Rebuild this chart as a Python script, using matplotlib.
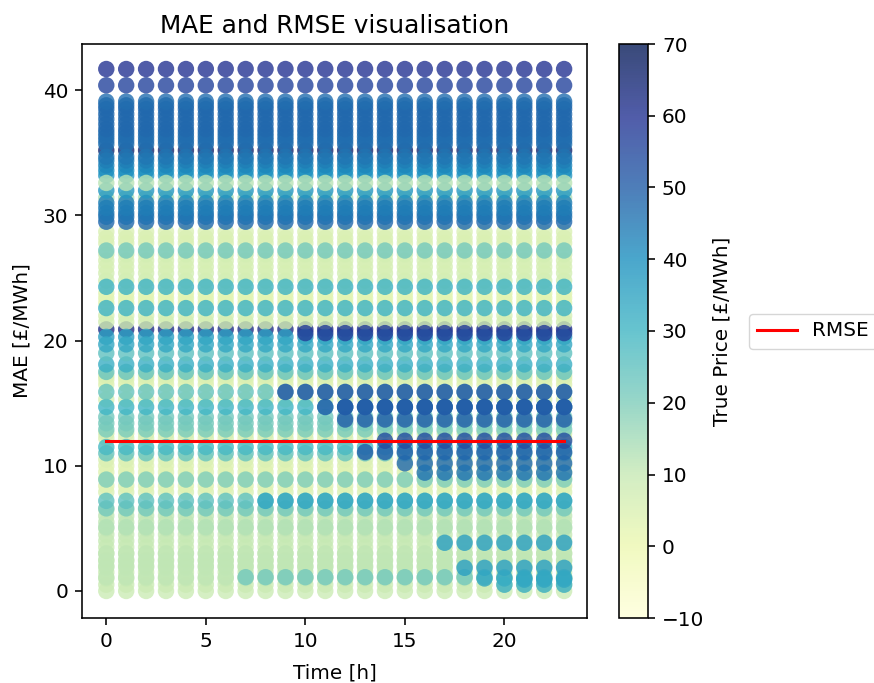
import matplotlib
matplotlib.use("Agg")
import matplotlib.pyplot as plt

hours = list(range(24))

# pale rows sitting underneath everything, one price per MAE level
pale_mae = [0.0, 0.5, 1.0, 1.5, 2.0, 2.5, 3.0, 3.5, 4.0, 4.5, 5.0, 5.5, 6.0, 6.5,
            7.9, 8.4, 9.0, 9.5, 10.0, 10.5, 12.2, 12.6, 15.3, 16.5, 16.9, 17.2,
            22.0, 23.0, 23.4, 23.8, 24.8, 25.4, 25.9, 26.4, 26.9, 27.8, 28.2, 28.7]
pale_price = [9, 9, 10, 9, 10, 10, 10, 9, 10, 10, 11, 11, 11, 11,
              5, 4, 5, 4, 4, 5, 5, 6, 6, 4, 4, 5,
              6, 3, 3, 3, 7, 7, 6, 6, 7, 5, 5, 5]

# rows present in every hour, drawn in this order
row_mae = [3.0, 2.4, 8.9, 6.6, 7.2, 5.1, 1.1, 1.9, 11.0, 11.5, 12.9, 13.4, 13.9, 14.7, 15.9,
           17.5, 18.1, 19.0, 20.9, 21.5, 20.3, 19.7, 22.6, 24.3, 27.2, 31.4, 29.5, 29.9, 30.2, 30.6, 31.0,
           32.0, 33.2, 33.6, 35.2, 34.0, 34.4, 34.7, 35.7, 36.0, 36.3, 36.6, 36.9, 37.3, 37.7,
           38.1, 38.5, 38.8, 39.1, 32.6, 40.4, 41.7]
row_price = [11, 11, 20, 22, 25, 13, 11, 11, 24, 29, 21, 21, 22, 30, 24,
             24, 32, 25, 62, 7, 36, 34, 31, 31, 22, 14, 48, 46, 45, 44, 44,
             38, 38, 40, 66, 42, 44, 45, 46, 47, 47, 47, 48, 48, 48,
             48, 48, 48, 47, 12, 56, 60]

# rows that only appear later in the day
late_mae = [7.2, 1.1, 20.6, 15.9, 14.7, 14.7, 13.7, 11.1, 12.0, 10.2, 9.45, 3.85, 1.85, 1.0, 0.5, 0.9]
late_price = [34, 22, 58, 52, 52, 50, 50, 50, 54, 48, 46, 36, 36, 34, 32, 34]
late_from = [8, 7, 10, 9, 12, 11, 12, 13, 14, 15, 16, 17, 18, 19, 20, 21]

rmse_hours = [0, 23]
rmse_values = [12.0, 12.0]

price_ticks = [-10, 0, 10, 20, 30, 40, 50, 60, 70]

xs, ys, cs = [], [], []
for h in hours:
    for m, p in zip(pale_mae + row_mae, pale_price + row_price):
        xs.append(h)
        ys.append(m)
        cs.append(p)
    for m, p, start in zip(late_mae, late_price, late_from):
        if h >= start:
            xs.append(h)
            ys.append(m)
            cs.append(p)

plt.rcParams["font.size"] = 14.4
plt.rcParams["axes.linewidth"] = 1.15
plt.rcParams["xtick.major.size"] = 5
plt.rcParams["ytick.major.size"] = 5
plt.rcParams["xtick.major.width"] = 1.15
plt.rcParams["ytick.major.width"] = 1.15
plt.rcParams["xtick.major.pad"] = 5
plt.rcParams["ytick.major.pad"] = 5

fig = plt.figure(figsize=(8.74, 6.83), dpi=100)
ax = fig.add_axes([82 / 874, 1 - 618 / 683, 505 / 874, 574 / 683])
cax = fig.add_axes([619 / 874, 1 - 618 / 683, 29 / 874, 574 / 683])

sc = ax.scatter(xs, ys, c=cs, s=140, cmap="YlGnBu", vmin=-10, vmax=70, alpha=0.8,
                linewidths=0)
ax.plot(rmse_hours, rmse_values, color="red", linewidth=2.2, label="RMSE")

ax.set_xlim(-1.22, 24.15)
ax.set_ylim(-2.16, 43.7)
ax.set_xticks([0, 5, 10, 15, 20])
ax.set_yticks([0, 10, 20, 30, 40])
ax.set_title("MAE and RMSE visualisation", fontsize=17.8, pad=8)
ax.set_xlabel("Time [h]", labelpad=9)
ax.set_ylabel("MAE [£/MWh]", labelpad=8)
ax.legend(loc="center left", bbox_to_anchor=(1.30, 0.5))

cbar = fig.colorbar(sc, cax=cax, ticks=price_ticks)
cbar.set_label("True Price [£/MWh]", labelpad=6)

fig.savefig("out.png", dpi=100)
plt.close()
